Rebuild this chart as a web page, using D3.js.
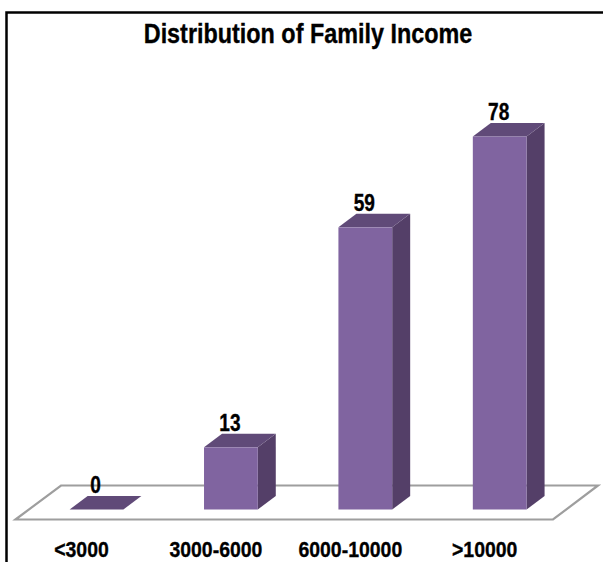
<!DOCTYPE html>
<html><head><meta charset="utf-8">
<script src="https://cdn.jsdelivr.net/npm/d3@7"></script>
<style>html,body{margin:0;padding:0;background:#fff}svg{display:block}text{font-family:"Liberation Sans",Arial,sans-serif;font-weight:bold;fill:#000;stroke:#000;stroke-width:0.35}</style>
</head><body><svg id="c" width="603" height="562"></svg>
<script>
const categories = ["<3000","3000-6000","6000-10000",">10000"];
const values = [0,13,59,78];
const titleText = "Distribution of Family Income";

const svg = d3.select("#c");
const x = d3.scaleBand().domain(categories).range([29.3,566.9]).paddingInner(0.6).paddingOuter(0.3);
const y = d3.scaleLinear().domain([0,78]).range([509.5,136.5]);
const dx = 18, dy = 13.5;

// frame
svg.append("path").attr("d","M6.5,562V12.5H603").attr("fill","none").attr("stroke","#000").attr("stroke-width",2.5);

// floor
svg.append("path").attr("d","M15.5,519.5L61,485.5H598L553,519.5Z").attr("fill","#fff").attr("stroke","#9e9e9e").attr("stroke-width",2.2);

const bars = svg.selectAll("g.bar").data(categories.map((c,i)=>({c,v:values[i]}))).join("g").attr("class","bar");
bars.append("path").attr("fill","#543f68").attr("d",d=>{
  const l=x(d.c)+x.bandwidth(), t=y(d.v), b=y(0);
  return `M${l},${t}L${l+dx},${t-dy}V${b-dy}L${l},${b}Z`;
});
bars.append("path").attr("fill","#604a78").attr("d",d=>{
  const l=x(d.c), r=l+x.bandwidth(), t=y(d.v);
  return `M${l},${t}L${l+dx},${t-dy}H${r+dx}L${r},${t}Z`;
});
bars.append("rect").attr("fill","#8064a0")
  .attr("x",d=>x(d.c)).attr("y",d=>y(d.v)).attr("width",x.bandwidth()).attr("height",d=>y(0)-y(d.v));

function label(sel,tx,ty,size,sx){
  sel.attr("transform",`translate(${tx},${ty}) scale(${sx},1)`).attr("text-anchor","middle").attr("font-size",size);
}
bars.append("text").text(d=>d.v).each(function(d){
  label(d3.select(this),x(d.c)+x.bandwidth()/2-1,y(d.v)-dy-3,23,0.83);
});
bars.append("text").text(d=>d.c).each(function(d){
  label(d3.select(this),x(d.c)+x.bandwidth()/2-15,557,22.5,0.865);
});
svg.append("text").text(titleText).call(label,308,42.7,28,0.835);
</script></body></html>
